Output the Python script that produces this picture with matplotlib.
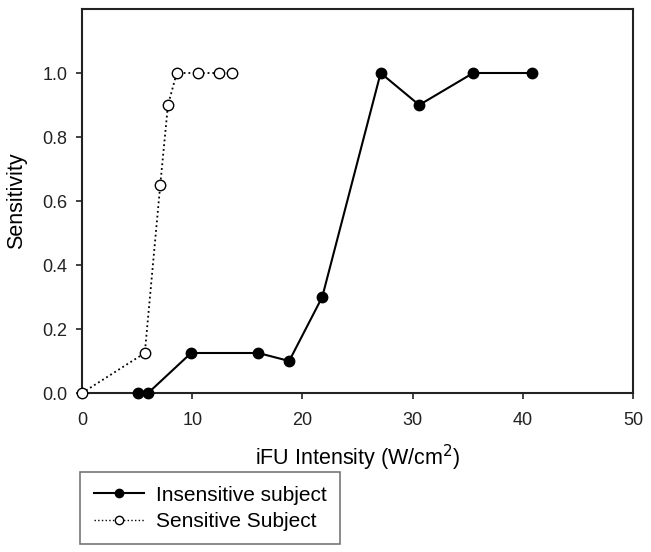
import matplotlib
matplotlib.use("Agg")
import matplotlib.pyplot as plt
from matplotlib.lines import Line2D

plt.rcParams['font.family'] = ['Liberation Sans', 'DejaVu Sans']

insens_x = [5.1, 6.0, 9.9, 16.0, 18.8, 21.8, 27.1, 30.6, 35.5, 40.8]
insens_y = [0.0, 0.0, 0.125, 0.125, 0.1, 0.3, 1.0, 0.9, 1.0, 1.0]
sens_x = [0.0, 5.7, 7.1, 7.8, 8.6, 10.5, 12.4, 13.6]
sens_y = [0.0, 0.125, 0.65, 0.9, 1.0, 1.0, 1.0, 1.0]
xticks = [0, 10, 20, 30, 40, 50]
yticks = [0.0, 0.2, 0.4, 0.6, 0.8, 1.0]
labels = ["Insensitive subject", "Sensitive Subject"]

fig = plt.figure(figsize=(6.51, 5.52), dpi=100)
ax = fig.add_axes([82/651, 1-393/552, (633-82)/651, (393-9)/552])

ax.plot(insens_x, insens_y, '-', color='black', lw=1.5, marker='o', ms=7.5,
        mfc='black', mec='black', clip_on=False, zorder=3)
ax.plot(sens_x, sens_y, ':', color='black', lw=1.3, marker='o', ms=7.5,
        mfc='white', mec='black', mew=1.0, clip_on=False, zorder=4)

ax.set_xlim(0, 50)
ax.set_ylim(0, 1.2)
ax.set_xticks(xticks)
ax.set_yticks(yticks)
ax.set_yticklabels([f"{v:.1f}" for v in yticks])
ax.tick_params(direction='out', length=4.5, width=1.2, labelsize=13, colors='#222222')
ax.tick_params(axis='x', pad=9)
ax.tick_params(axis='y', pad=6)
for s in ax.spines.values():
    s.set_linewidth(1.5)
    s.set_color('#222222')

ax.set_xlabel("iFU Intensity (W/cm$^{2}$)", fontsize=15.5, labelpad=10)
ax.set_ylabel("Sensitivity", fontsize=15.5, labelpad=11)

handles = [
    Line2D([], [], color='black', lw=1.5, marker='o', ms=6, mfc='black', mec='black'),
    Line2D([], [], color='black', lw=1.0, ls=':', marker='o', ms=6, mfc='white', mec='black'),
]
leg = fig.legend(handles, labels, loc='upper left',
                 bbox_to_anchor=(80/651, 1-472/552),
                 bbox_transform=fig.transFigure, fontsize=15, frameon=True,
                 fancybox=False, handlelength=2.4, handletextpad=0.6,
                 borderpad=0.65, labelspacing=0.35, borderaxespad=0)
leg.get_frame().set_edgecolor('#555555')
leg.get_frame().set_linewidth(1.2)

fig.savefig("out.png", dpi=100)
